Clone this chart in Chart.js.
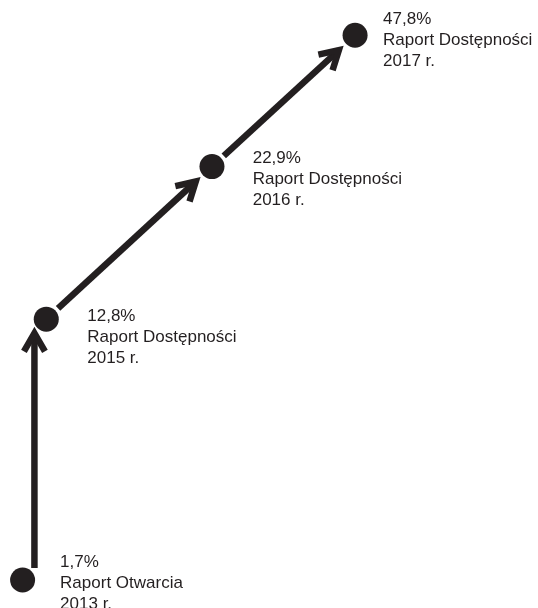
<!DOCTYPE html>
<html lang="pl">
<head>
<meta charset="utf-8">
<script src="https://cdn.jsdelivr.net/npm/chart.js@4/dist/chart.umd.min.js"></script>
<style>
    html, body { margin: 0; padding: 0; background: #fff; }
    #wrap { width: 538px; height: 608px; position: relative; }
</style>
</head>
<body>
<div id="wrap"><canvas id="stepsChart"></canvas></div>
<script>
// report milestones
const years = [2013, 2015, 2016, 2017];
const reportNames = ["Raport Otwarcia", "Raport Dostępności", "Raport Dostępności", "Raport Dostępności"];
const percentValues = [1.7, 12.8, 22.9, 47.8];

// schematic diagram coordinates (hidden 0-100 axes)
const stepX = [4.2, 8.6, 39.4, 66.0];
const stepY = [4.6, 47.5, 72.6, 94.2];

const INK = "#231f20";
const DOT_R = 12.5;

// label offset from each dot (first line baseline)
const labelOffsets = [[37.5, -13.5], [41, 2], [40.7, -4], [28, -11]];

function formatPercent(v) {
    return String(v).replace(".", ",") + "%";
}

function drawArrow(ctx, sx, sy, tx, ty) {
    const ang = Math.atan2(sy - ty, sx - tx);
    const half = 30 * Math.PI / 180;
    const arm = 21;
    ctx.beginPath();
    ctx.moveTo(sx, sy);
    ctx.lineTo(tx, ty);
    ctx.stroke();
    ctx.beginPath();
    ctx.moveTo(tx + Math.cos(ang + half) * arm, ty + Math.sin(ang + half) * arm);
    ctx.lineTo(tx, ty);
    ctx.lineTo(tx + Math.cos(ang - half) * arm, ty + Math.sin(ang - half) * arm);
    ctx.stroke();
}

const arrowPlugin = {
    id: "arrows",
    beforeDatasetsDraw(chart) {
        const pts = chart.getDatasetMeta(0).data;
        const ctx = chart.ctx;
        ctx.save();
        ctx.strokeStyle = INK;
        ctx.lineWidth = 6.5;
        ctx.lineCap = "butt";
        ctx.lineJoin = "miter";
        for (let i = 0; i < pts.length - 1; i++) {
            const a = pts[i], b = pts[i + 1];
            const dx = b.x - a.x, dy = b.y - a.y;
            if (Math.abs(dx) < 0.15 * Math.abs(dy)) {
                // steep step: straight vertical arrow between the two dots
                const mx = (a.x + b.x) / 2;
                const ha = Math.sqrt(Math.max(0, DOT_R * DOT_R - (mx - a.x) ** 2));
                const hb = Math.sqrt(Math.max(0, DOT_R * DOT_R - (mx - b.x) ** 2));
                const dir = Math.sign(dy);
                drawArrow(ctx, mx, a.y + dir * (ha + 8), mx, b.y - dir * (hb + 10));
            } else {
                const len = Math.hypot(dx, dy);
                const ux = dx / len, uy = dy / len;
                drawArrow(ctx, a.x + ux * 16, a.y + uy * 16, b.x - ux * 22, b.y - uy * 22);
            }
        }
        ctx.restore();
    },
    afterDatasetsDraw(chart) {
        const pts = chart.getDatasetMeta(0).data;
        const ctx = chart.ctx;
        ctx.save();
        ctx.fillStyle = INK;
        ctx.font = "17px 'Liberation Sans', Arial, sans-serif";
        ctx.textBaseline = "alphabetic";
        ctx.textAlign = "left";
        pts.forEach((p, i) => {
            const x = p.x + labelOffsets[i][0];
            const y = p.y + labelOffsets[i][1];
            const lines = [formatPercent(percentValues[i]), reportNames[i], years[i] + " r."];
            lines.forEach((t, k) => ctx.fillText(t, x, y + k * 21));
        });
        ctx.restore();
    }
};

const ctx = document.getElementById("stepsChart").getContext("2d");
new Chart(ctx, {
    type: "scatter",
    data: {
        datasets: [{
            label: "Raporty",
            data: stepX.map((x, i) => ({ x: x, y: stepY[i] })),
            backgroundColor: INK,
            borderWidth: 0,
            pointRadius: DOT_R,
            pointHoverRadius: DOT_R,
            showLine: false,
            clip: false
        }]
    },
    options: {
        responsive: true,
        maintainAspectRatio: false,
        animation: false,
        layout: { padding: 0, autoPadding: false },
        plugins: {
            legend: { display: false },
            tooltip: { enabled: false }
        },
        scales: {
            x: { type: "linear", min: 0, max: 100, display: false },
            y: { type: "linear", min: 0, max: 100, display: false }
        }
    },
    plugins: [arrowPlugin]
});
</script>
</body>
</html>
